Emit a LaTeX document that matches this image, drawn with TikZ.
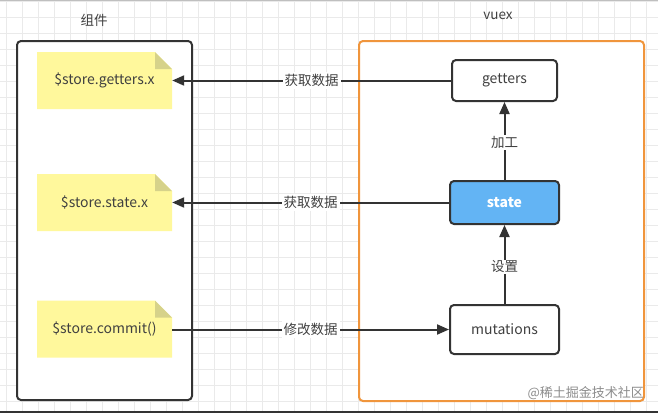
\documentclass[tikz,border=0pt]{standalone}
\usepackage{fontspec}
\setmainfont{Noto Sans CJK SC}
\usetikzlibrary{arrows.meta}
\definecolor{txt}{HTML}{404040}
\definecolor{bord}{HTML}{333333}
\definecolor{orangeb}{HTML}{F0953C}
\definecolor{stateblue}{HTML}{63B4F4}
\definecolor{notefill}{HTML}{FFF89C}
\definecolor{foldfill}{HTML}{D6D28A}
\definecolor{gridc}{HTML}{EAEAEA}
\tikzset{
  frame/.style={draw=bord, line width=2pt, rounded corners=4pt, fill=white},
  vbox/.style={draw=bord, line width=2pt, rounded corners=4pt, fill=white, text=txt, font=\fontsize{14}{16}\selectfont, inner sep=0pt},
  notetext/.style={text=txt, font=\fontsize{14}{16}\selectfont, inner sep=0pt, minimum width=135pt, minimum height=57pt},
  conn/.style={draw=bord, line width=2pt, -{Triangle[length=12pt,width=10pt]}},
  lbl/.style={fill=white, text=txt, font=\fontsize{13.5}{15}\selectfont, inner sep=2pt},
  title/.style={text=txt, font=\fontsize{13.5}{15}\selectfont}
}
\newcommand\mynote[4]{%
  \fill[notefill] (#2-67.5,#3-28.5) -- (#2+50.5,#3-28.5) -- (#2+67.5,#3-11.5) -- (#2+67.5,#3+28.5) -- (#2-67.5,#3+28.5) -- cycle;
  \fill[foldfill] (#2+50.5,#3-28.5) -- (#2+50.5,#3-11.5) -- (#2+67.5,#3-11.5) -- cycle;
  \node[notetext] (#1) at (#2,#3) {#4};}
\begin{document}
\begin{tikzpicture}[x=1pt,y=-1pt]
\useasboundingbox (0,0) rectangle (658,413);
\fill[white] (0,0) rectangle (658,413);
% grid
\foreach \gx in {6,22,...,654} \draw[gridc, line width=0.7pt] (\gx,0) -- (\gx,413);
\foreach \gy in {1,17,...,412} \draw[gridc, line width=0.7pt] (0,\gy) -- (658,\gy);
\draw[black!25, line width=1pt] (0,0.5) -- (658,0.5);
\fill[black!80] (0,410.5) rectangle (658,413);
% containers
\draw[frame] (17,41) rectangle (192,400);
\draw[frame, draw=orangeb] (359,41) rectangle (644,401);
\node[title] (t1) at (94,20) {组件};
\node[title] (t2) at (498,16) {vuex};
% notes
\mynote{ng}{104.5}{80.5}{\$store.getters.x}
\mynote{ns}{104.5}{202.5}{\$store.state.x}
\mynote{nc}{104.5}{329}{\$store.commit()}
% vuex nodes
\node[vbox, minimum width=105pt, minimum height=41pt] (g) at (504.5,80.5) {getters};
\node[vbox, fill=stateblue, text=white, minimum width=109pt, minimum height=43pt, font=\fontsize{14}{16}\selectfont\bfseries] (s) at (504.5,202.5) {state};
\node[vbox, minimum width=109pt, minimum height=49pt] (m) at (504.5,329.5) {mutations};
% connectors
\draw[conn] (g.west) -- node[lbl, midway] {获取数据} (ng.east |- g.west);
\draw[conn] (s.west) -- node[lbl, midway] {获取数据} (ns.east |- s.west);
\draw[conn] (nc.east |- m.west) -- node[lbl, midway] {修改数据} (m.west);
\draw[conn] (s.north) -- node[lbl, inner sep=1pt, pos=0.48] {加工} (g.south);
\draw[conn] (m.north) -- node[lbl, inner sep=1pt, pos=0.47] {设置} (s.south);
% watermark
\node[text=black!45, font=\fontsize{13}{15}\selectfont, anchor=east, inner sep=0pt] (wm) at (644,393) {@稀土掘金技术社区};
\end{tikzpicture}
\end{document}
